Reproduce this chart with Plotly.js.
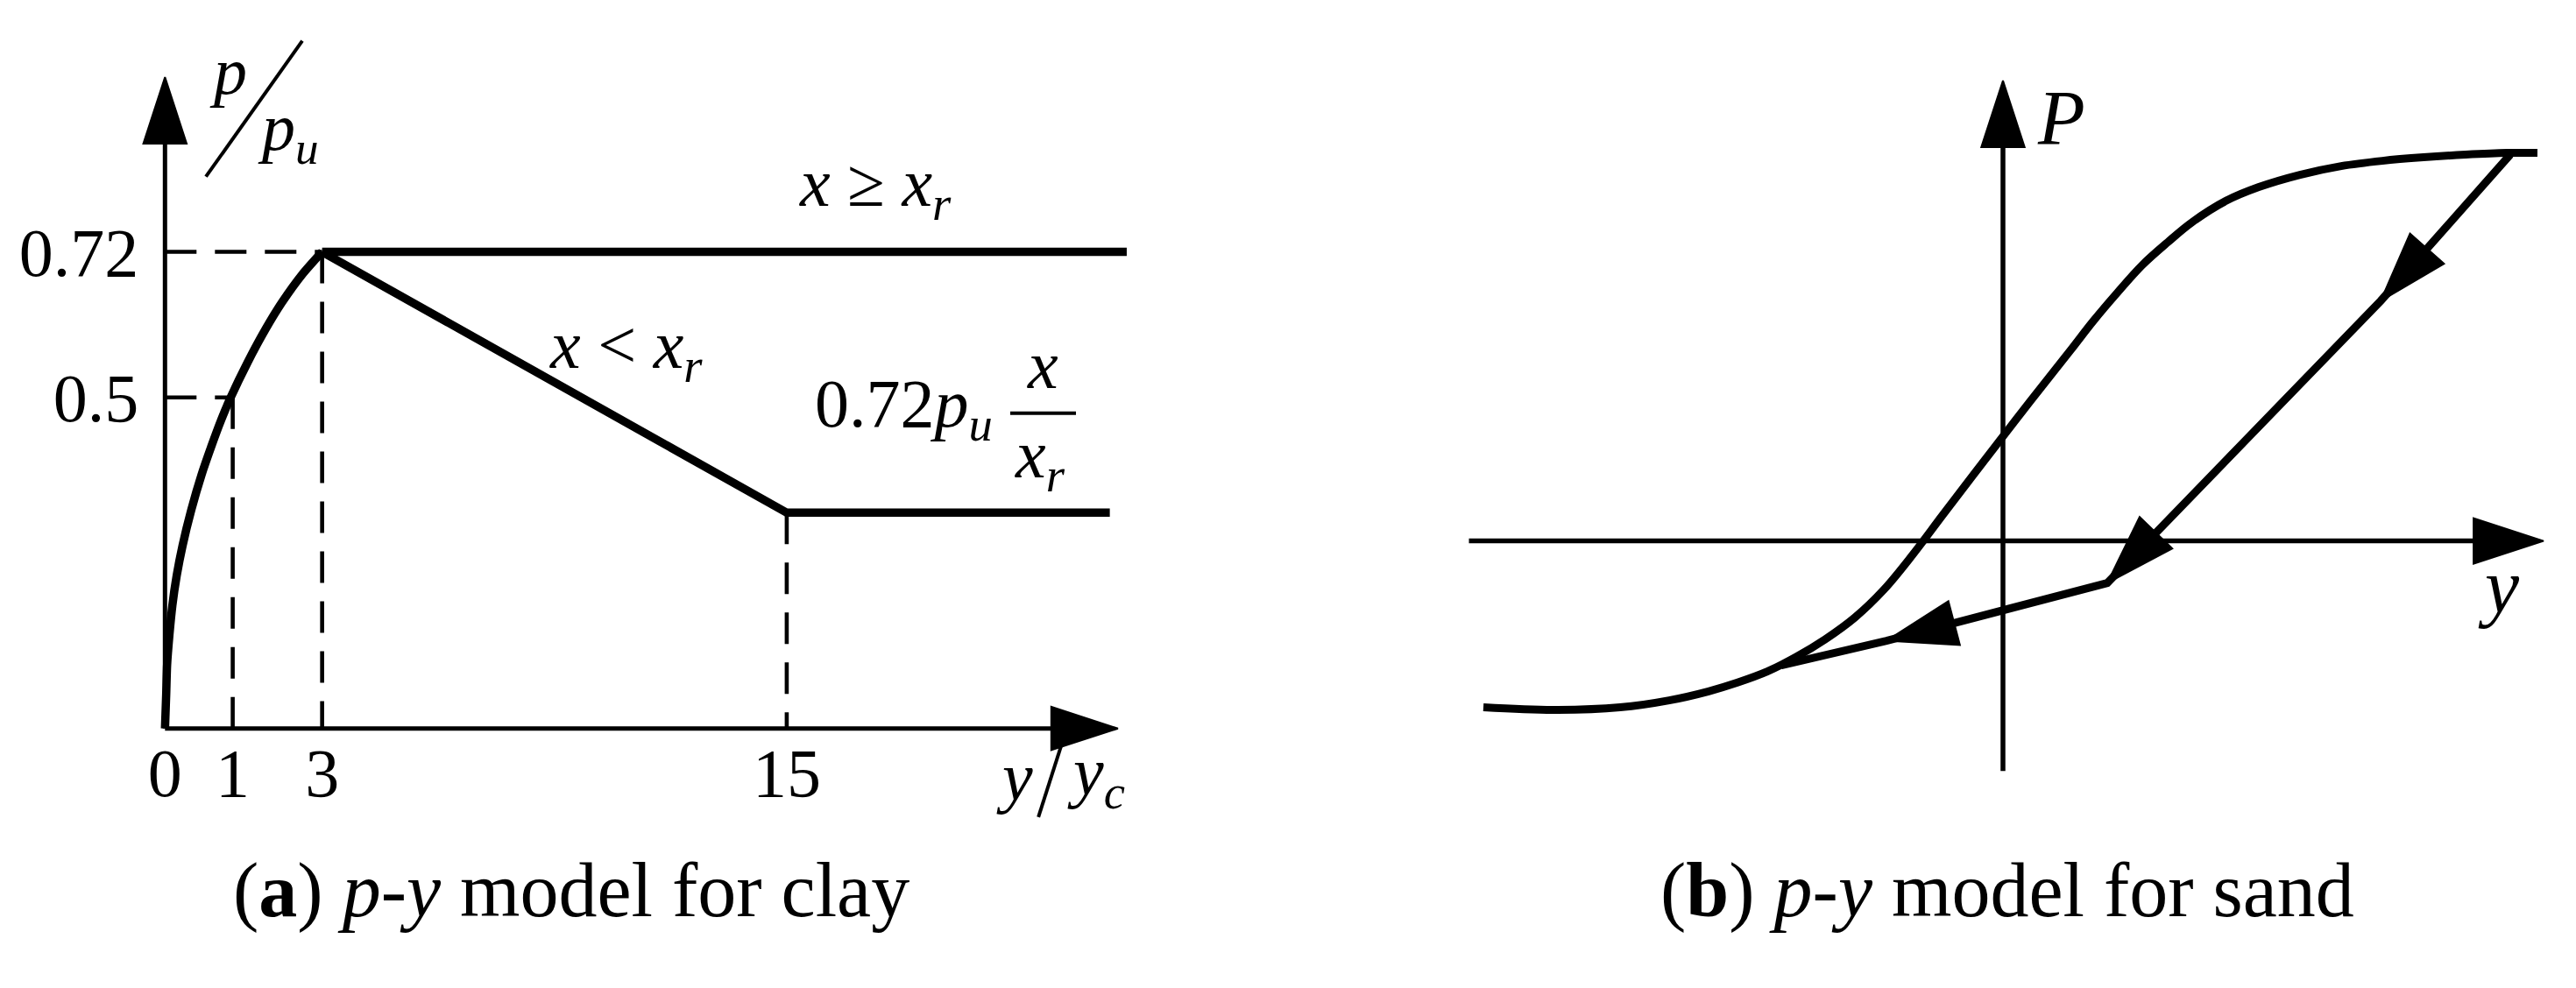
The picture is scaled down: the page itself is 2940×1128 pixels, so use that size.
<!DOCTYPE html>
<html>
<head>
<meta charset="utf-8">
<script src="https://cdn.plot.ly/plotly-3.0.1.min.js"></script>
<style>
  html, body { margin: 0; padding: 0; background: #fff; }
  #chart { width: 2940px; height: 1128px; }
</style>
</head>
<body>
<div id="chart"></div>
<script>
// (a) clay -- the y/yc axis of the sketch is not to scale, so ticks sit at schematic positions
var clayTickPos = [0, 1, 2.32, 9.18];
var clayTickText = ["0", "1", "3", "15"];
var clayYTicks = [0.5, 0.72];

// backbone p/pu curve up to the peak
var clayCurveX = [0, 0.018, 0.031, 0.065, 0.109, 0.173, 0.259, 0.388, 0.539, 0.691, 0.841, 0.97, 1.22, 1.484, 1.73, 2.027, 2.32];
var clayCurveY = [0, 0.052, 0.096, 0.141, 0.186, 0.231, 0.276, 0.33, 0.383, 0.428, 0.469, 0.5, 0.553, 0.603, 0.644, 0.686, 0.72];

// after the peak: x >= xr stays at 0.72, x < xr drops to a residual plateau
var deepX = [2.32, 14.2];
var deepY = [0.72, 0.72];
var shallowX = [2.32, 9.18, 13.95];
var shallowY = [0.72, 0.326, 0.326];

// (b) sand -- loading backbone and the unloading path (schematic units)
var sandLoadX = [-5.93, -5.13, -4.37, -3.81, -3.36, -3.03, -2.69, -2.36, -2.03, -1.69, -1.36, -1.03, -0.69, -0.36, 0, 0.31, 0.77, 1.03, 1.31, 1.59, 1.88, 2.16, 2.54, 2.92, 3.39, 3.86, 4.33, 4.8, 5.28, 5.75, 6.1];
var sandLoadY = [-1.9, -1.93, -1.9, -1.82, -1.717, -1.617, -1.491, -1.324, -1.124, -0.874, -0.557, -0.157, 0.293, 0.726, 1.193, 1.593, 2.176, 2.51, 2.84, 3.15, 3.41, 3.64, 3.88, 4.04, 4.18, 4.28, 4.34, 4.38, 4.41, 4.43, 4.43];
var sandUnloadX = [5.79, 4.31, 1.19, -1.33, -2.53];
var sandUnloadY = [4.41, 2.74, -0.48, -1.14, -1.42];
var sandArrowAt = [false, true, true, true, false];

var serif = "'Liberation Serif', 'Times New Roman', serif";
var ink = "#000000";
var headSize = 84;

// where the drawn axis arrows end
var clayAxisEnd = { x: 14.07, y: 0.984 };
var sandAxisX = [-6.095, 6.17];
var sandAxisY = [-2.626, 5.256];

function arrowSizes(flags) {
  return flags.map(function (f) { return f ? headSize : 0; });
}

function head(size) {
  return {
    symbol: "arrow", angleref: "previous", size: size, color: ink, opacity: 1,
    line: { color: ink, width: 2 }
  };
}

var guideX = [], guideY = [];
// horizontal guides from the p axis to the curve
guideX.push(0, clayTickPos[2], null, 0, clayTickPos[1], null);
guideY.push(clayYTicks[1], clayYTicks[1], null, clayYTicks[0], clayYTicks[0], null);
// vertical guides down to the y/yc axis
guideX.push(clayTickPos[1], clayTickPos[1], null, clayTickPos[2], clayTickPos[2], null, shallowX[1], shallowX[1]);
guideY.push(clayYTicks[0], 0, null, clayYTicks[1], 0, null, shallowY[1], 0);

var traces = [
  {
    x: guideX, y: guideY, mode: "lines", xaxis: "x", yaxis: "y",
    line: { color: ink, width: 4.6, dash: "36px,21px" }
  },
  {
    x: [0, clayAxisEnd.x], y: [0, 0], mode: "lines+markers", xaxis: "x", yaxis: "y",
    line: { color: ink, width: 5, backoff: "auto" },
    marker: head([0, 80])
  },
  {
    x: [0, 0], y: [0, clayAxisEnd.y], mode: "lines+markers", xaxis: "x", yaxis: "y",
    line: { color: ink, width: 5, backoff: "auto" },
    marker: head([0, 80])
  },
  {
    x: clayCurveX, y: clayCurveY, mode: "lines", xaxis: "x", yaxis: "y",
    line: { color: ink, width: 9.5, shape: "spline", smoothing: 0.6 }
  },
  {
    x: deepX, y: deepY, mode: "lines", xaxis: "x", yaxis: "y",
    line: { color: ink, width: 9.5 }
  },
  {
    x: shallowX, y: shallowY, mode: "lines", xaxis: "x", yaxis: "y",
    line: { color: ink, width: 9.5 }
  },
  {
    x: sandAxisX, y: [0, 0], mode: "lines+markers", xaxis: "x2", yaxis: "y2",
    line: { color: ink, width: 5.5, backoff: "auto" },
    marker: head([0, 84])
  },
  {
    x: [0, 0], y: sandAxisY, mode: "lines+markers", xaxis: "x2", yaxis: "y2",
    line: { color: ink, width: 5.5, backoff: "auto" },
    marker: head([0, 80])
  },
  {
    x: sandLoadX, y: sandLoadY, mode: "lines", xaxis: "x2", yaxis: "y2",
    line: { color: ink, width: 9, shape: "spline", smoothing: 1 }
  },
  {
    x: sandUnloadX, y: sandUnloadY, mode: "lines+markers", xaxis: "x2", yaxis: "y2",
    line: { color: ink, width: 9, backoff: 0 },
    marker: head(arrowSizes(sandArrowAt))
  }
];

function label(text, xref, yref, x, y, size) {
  return {
    text: text, xref: xref, yref: yref, x: x, y: y, showarrow: false,
    xanchor: "center", yanchor: "middle",
    font: { family: serif, size: size, color: ink }
  };
}

var annotations = [
  label("<i>p</i>", "x", "y", 0.94, 0.993, 76),
  label("<i>p</i><sub><i>u</i></sub>", "x", "y", 1.82, 0.9, 76),
  label("<i>x</i> ≥ <i>x</i><sub><i>r</i></sub>", "x", "y", 10.49, 0.817, 78),
  label("<i>x</i> &lt; <i>x</i><sub><i>r</i></sub>", "x", "y", 6.81, 0.572, 78),
  label("0.72<i>p</i><sub><i>u</i></sub>", "x", "y", 10.91, 0.484, 78),
  label("<i>x</i>", "x", "y", 12.96, 0.549, 78),
  label("<i>x</i><sub><i>r</i></sub>", "x", "y", 12.92, 0.407, 78),
  label("<i>y</i>", "x", "y", 12.55, -0.072, 78),
  label("<i>y</i><sub><i>c</i></sub>", "x", "y", 13.75, -0.072, 78),
  label("<i>P</i>", "x2", "y2", 0.66, 4.836, 88),
  label("<i>y</i>", "x2", "y2", 5.66, -0.52, 88),
  label("(<b>a</b>) <i>p-y</i> model for clay", "paper", "paper", 0.2218, 0.099, 88),
  label("(<b>b</b>) <i>p-y</i> model for sand", "paper", "paper", 0.7794, 0.099, 88)
];

// slashes of p/pu and y/yc, and the bar of x/xr
var shapes = [
  { type: "line", xref: "paper", yref: "paper", x0: 0.07993, y0: 0.82119, x1: 0.11735, y1: 0.9586,
    line: { color: ink, width: 4 } },
  { type: "line", xref: "paper", yref: "paper", x0: 0.4119, y0: 0.2447, x1: 0.4031, y1: 0.1729,
    line: { color: ink, width: 4 } },
  { type: "line", xref: "paper", yref: "paper", x0: 0.39218, y0: 0.58183, x1: 0.41769, y1: 0.58183,
    line: { color: ink, width: 4 } }
];

var layout = {
  width: 2940,
  height: 1128,
  margin: { l: 0, r: 0, t: 0, b: 0 },
  paper_bgcolor: "#fff",
  plot_bgcolor: "rgba(0,0,0,0)",
  showlegend: false,
  font: { family: serif, color: ink },
  xaxis: {
    domain: [0, 0.5], range: [-2.436, 16.581],
    anchor: "free", position: 0.26268,
    tickvals: clayTickPos, ticktext: clayTickText,
    showgrid: false, zeroline: false, showline: false, ticks: "",
    ticklabelstandoff: -2,
    tickfont: { family: serif, size: 78, color: ink }
  },
  yaxis: {
    domain: [0, 1], range: [-0.392, 1.1004],
    anchor: "free", position: 0.06405,
    tickvals: clayYTicks, ticktext: clayYTicks.map(String),
    showgrid: false, zeroline: false, showline: false, ticks: "",
    ticklabelstandoff: 30,
    tickfont: { family: serif, size: 78, color: ink }
  },
  xaxis2: {
    domain: [0.5, 1], range: [-8.16, 6.54], anchor: "y2", visible: false
  },
  yaxis2: {
    domain: [0, 1], range: [-5.104, 6.176], anchor: "x2", visible: false
  },
  annotations: annotations,
  shapes: shapes
};

Plotly.newPlot("chart", traces, layout, { staticPlot: true, displayModeBar: false });
</script>
</body>
</html>
